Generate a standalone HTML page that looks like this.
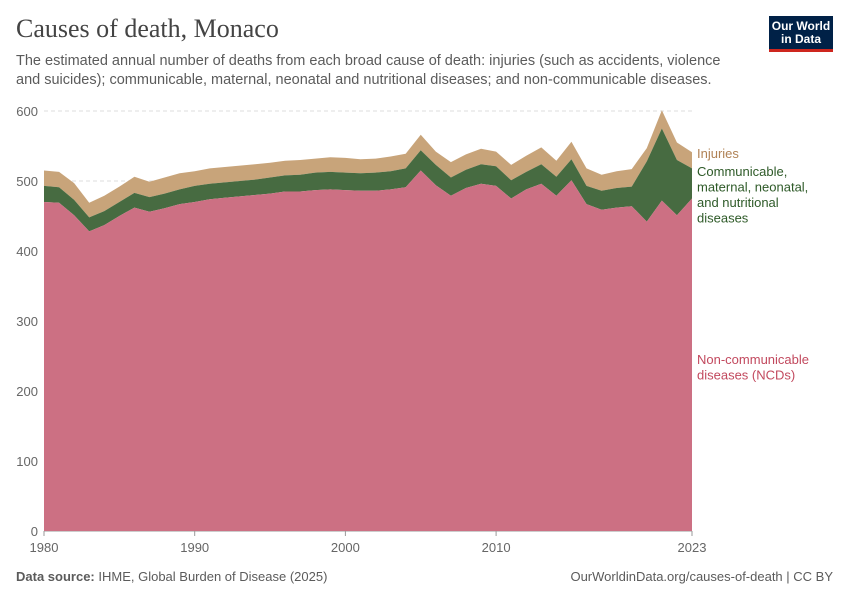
<!DOCTYPE html>
<html><head><meta charset="utf-8"><style>
body{margin:0;background:#fff;font-family:"Liberation Sans",sans-serif;}
#wrap{position:relative;width:850px;height:600px;overflow:hidden;}
.t{position:absolute;margin:0}
</style></head><body><div id="wrap">
<h1 class="t" style="left:16px;top:14px;font-family:'Liberation Serif',serif;font-size:26px;font-weight:normal;color:#444;">Causes of death, Monaco</h1>
<p class="t" style="left:16px;top:52px;width:720px;font-size:14.5px;line-height:19px;color:#5b5b5b;">The estimated annual number of deaths from each broad cause of death: injuries (such as accidents, violence and suicides); communicable, maternal, neonatal and nutritional diseases; and non-communicable diseases.</p>
<div class="t" style="left:769px;top:16px;width:64px;height:36px;background:#002147;border-bottom:3px solid #ce261e;color:#fff;font-size:12px;line-height:13px;text-align:center;padding-top:4px;box-sizing:border-box;font-weight:bold;">Our World<br>in Data</div>
<svg id="chart" width="850" height="600" style="position:absolute;left:0;top:0"></svg>
<div class="t" style="left:16px;top:569px;font-size:13px;color:#5b5b5b;"><b>Data source:</b> IHME, Global Burden of Disease (2025)</div>
<div class="t" style="right:17px;top:569px;font-size:13px;color:#5b5b5b;">OurWorldinData.org/causes-of-death | CC BY</div>
</div>
<script>
const years=[1980,1981,1982,1983,1984,1985,1986,1987,1988,1989,1990,1991,1992,1993,1994,1995,1996,1997,1998,1999,2000,2001,2002,2003,2004,2005,2006,2007,2008,2009,2010,2011,2012,2013,2014,2015,2016,2017,2018,2019,2020,2021,2022,2023];
const ncd=[470,469,451,428,437,450,462,456,461,467,470,474,476,478,480,482,485,485,487,488,487,486,486,488,491,515,494,479,490,496,493,475,488,496,479,501,467,459,462,464,442,472,451,475];
const comm=[23,22,22,20,20,20,21,21,21,21,23,22,22,22,22,23,23,24,25,25,25,25,26,26,27,29,29,26,26,28,28,26,25,28,27,30,26,27,28,28,86,103,79,43];
const inj=[22,22,24,21,22,22,23,22,23,23,21,22,22,22,22,21,21,21,20,21,21,20,20,21,21,22,19,22,22,22,21,22,23,24,23,25,25,23,24,25,19,26,25,23];
const yTicks=[0,100,200,300,400,500,600];
const xTicks=[1980,1990,2000,2010,2023];
const svg=document.getElementById('chart');
const NS='http://www.w3.org/2000/svg';
const X=y=>44+(y-1980)*(692-44)/43;
const Y=v=>531-v*0.7;
function mk(tag,attrs){const e=document.createElementNS(NS,tag);for(const k in attrs)e.setAttribute(k,attrs[k]);svg.appendChild(e);return e;}
yTicks.forEach(v=>{
  const l=mk('line',{x1:44,x2:692,y1:Y(v),y2:Y(v),stroke:v===0?'#999':'#ddd','stroke-dasharray':v===0?'':'4,3'});
  
  
  const t=mk('text',{x:38,y:Y(v)+5,'text-anchor':'end','font-size':13,fill:'#666','font-family':'Liberation Sans'});
  t.textContent=v;
  
  
});
const b1=ncd, b2=ncd.map((v,i)=>v+comm[i]), b3=b2.map((v,i)=>v+inj[i]);
function area(top,bot,color,name){
  let d='M'+years.map((y,i)=>X(y)+','+Y(top[i])).join('L');
  for(let i=years.length-1;i>=0;i--)d+='L'+X(years[i])+','+Y(bot?bot[i]:0);
  const p=mk('path',{d:d+'Z',fill:color});
  
  
}
area(b3,b2,'#c8a47a','injuries-area');
area(b2,b1,'#476b41','communicable-area');
area(b1,null,'#cc7083','ncd-area');
xTicks.forEach(y=>{
  const tk=mk('line',{x1:X(y),x2:X(y),y1:531,y2:536,stroke:'#999'});
  
  
  const t=mk('text',{x:X(y),y:552,'text-anchor':'middle','font-size':13,fill:'#666','font-family':'Liberation Sans'});
  t.textContent=y;
  
  
});
function lab(lines,y,color,name){
  const t=mk('text',{x:697,y:y,'font-size':13,fill:color,'font-family':'Liberation Sans'});
  lines.forEach((s,i)=>{const ts=document.createElementNS(NS,'tspan');ts.setAttribute('x',697);ts.setAttribute('dy',i?15.5:0);ts.textContent=s;t.appendChild(ts);});
  
  
}
lab(['Injuries'],158,'#b08255','legend-injuries');
lab(['Communicable,','maternal, neonatal,','and nutritional','diseases'],176,'#2e5a28','legend-communicable');
lab(['Non-communicable','diseases (NCDs)'],364,'#c2495e','legend-ncd');
</script></body></html>
